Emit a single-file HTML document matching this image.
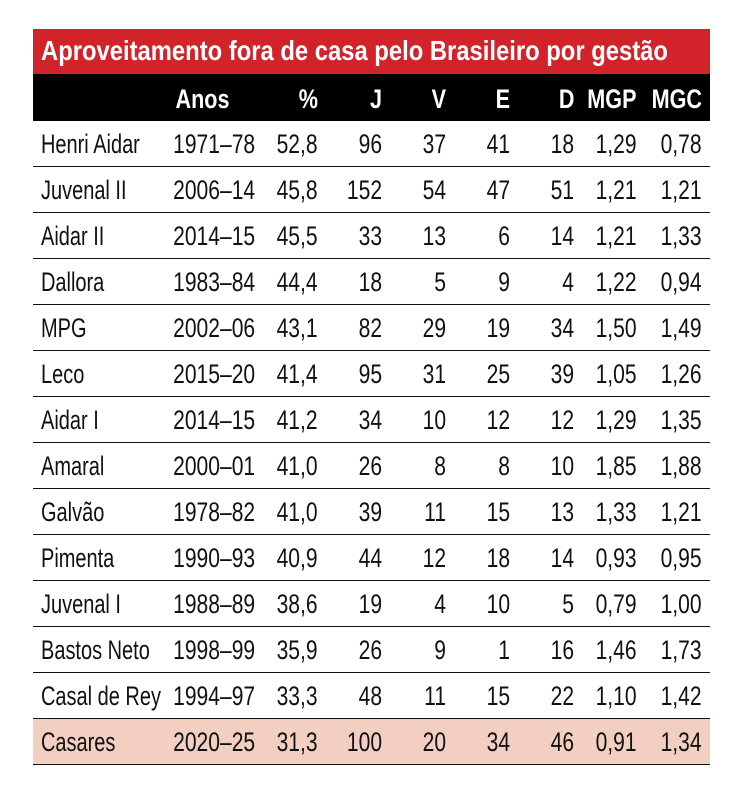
<!DOCTYPE html>
<html><head><meta charset="utf-8"><style>
body{margin:0;background:#fff;width:744px;height:792px;position:relative;overflow:hidden;font-family:"Liberation Sans Narrow","Liberation Sans",sans-serif;}
.t{position:absolute;left:33px;top:29px;width:677px;height:45px;background:#d2232a;}
.t span{position:absolute;left:8px;top:5px;color:#fff;font-weight:bold;font-size:28px;white-space:nowrap;transform:scaleX(0.85);transform-origin:left center;line-height:34px;}
.h{position:absolute;left:33px;top:74px;width:677px;height:47px;background:#000;}
.r{position:absolute;left:33px;width:677px;height:45px;border-bottom:1.5px solid #111;}
.c{position:absolute;top:0;height:45px;line-height:47px;font-size:27px;color:#111;white-space:nowrap;transform:scaleX(0.78);transform-origin:right center;text-align:right;}
.n{transform-origin:left center;text-align:left;left:8px;transform:scaleX(0.74);}
.h .c{color:#fff;font-weight:bold;line-height:50px;transform:scaleX(0.8);}
</style></head><body>
<div class="t"><span>Aproveitamento fora de casa pelo Brasileiro por gestão</span></div>
<div class="h">
<span class="c" style="right:481px">Anos</span>
<span class="c" style="right:392px">%</span>
<span class="c" style="right:328px">J</span>
<span class="c" style="right:264px">V</span>
<span class="c" style="right:200px">E</span>
<span class="c" style="right:136px">D</span>
<span class="c" style="right:73px">MGP</span>
<span class="c" style="right:8px">MGC</span>
</div>
<div class="r" style="top:121px"><span class="c n">Henri Aidar</span><span class="c" style="right:455px">1971–78</span><span class="c" style="right:392px">52,8</span><span class="c" style="right:328px">96</span><span class="c" style="right:264px">37</span><span class="c" style="right:200px">41</span><span class="c" style="right:136px">18</span><span class="c" style="right:73px">1,29</span><span class="c" style="right:8px">0,78</span></div>
<div class="r" style="top:167px"><span class="c n">Juvenal II</span><span class="c" style="right:455px">2006–14</span><span class="c" style="right:392px">45,8</span><span class="c" style="right:328px">152</span><span class="c" style="right:264px">54</span><span class="c" style="right:200px">47</span><span class="c" style="right:136px">51</span><span class="c" style="right:73px">1,21</span><span class="c" style="right:8px">1,21</span></div>
<div class="r" style="top:213px"><span class="c n">Aidar II</span><span class="c" style="right:455px">2014–15</span><span class="c" style="right:392px">45,5</span><span class="c" style="right:328px">33</span><span class="c" style="right:264px">13</span><span class="c" style="right:200px">6</span><span class="c" style="right:136px">14</span><span class="c" style="right:73px">1,21</span><span class="c" style="right:8px">1,33</span></div>
<div class="r" style="top:259px"><span class="c n">Dallora</span><span class="c" style="right:455px">1983–84</span><span class="c" style="right:392px">44,4</span><span class="c" style="right:328px">18</span><span class="c" style="right:264px">5</span><span class="c" style="right:200px">9</span><span class="c" style="right:136px">4</span><span class="c" style="right:73px">1,22</span><span class="c" style="right:8px">0,94</span></div>
<div class="r" style="top:305px"><span class="c n">MPG</span><span class="c" style="right:455px">2002–06</span><span class="c" style="right:392px">43,1</span><span class="c" style="right:328px">82</span><span class="c" style="right:264px">29</span><span class="c" style="right:200px">19</span><span class="c" style="right:136px">34</span><span class="c" style="right:73px">1,50</span><span class="c" style="right:8px">1,49</span></div>
<div class="r" style="top:351px"><span class="c n">Leco</span><span class="c" style="right:455px">2015–20</span><span class="c" style="right:392px">41,4</span><span class="c" style="right:328px">95</span><span class="c" style="right:264px">31</span><span class="c" style="right:200px">25</span><span class="c" style="right:136px">39</span><span class="c" style="right:73px">1,05</span><span class="c" style="right:8px">1,26</span></div>
<div class="r" style="top:397px"><span class="c n">Aidar I</span><span class="c" style="right:455px">2014–15</span><span class="c" style="right:392px">41,2</span><span class="c" style="right:328px">34</span><span class="c" style="right:264px">10</span><span class="c" style="right:200px">12</span><span class="c" style="right:136px">12</span><span class="c" style="right:73px">1,29</span><span class="c" style="right:8px">1,35</span></div>
<div class="r" style="top:443px"><span class="c n">Amaral</span><span class="c" style="right:455px">2000–01</span><span class="c" style="right:392px">41,0</span><span class="c" style="right:328px">26</span><span class="c" style="right:264px">8</span><span class="c" style="right:200px">8</span><span class="c" style="right:136px">10</span><span class="c" style="right:73px">1,85</span><span class="c" style="right:8px">1,88</span></div>
<div class="r" style="top:489px"><span class="c n">Galvão</span><span class="c" style="right:455px">1978–82</span><span class="c" style="right:392px">41,0</span><span class="c" style="right:328px">39</span><span class="c" style="right:264px">11</span><span class="c" style="right:200px">15</span><span class="c" style="right:136px">13</span><span class="c" style="right:73px">1,33</span><span class="c" style="right:8px">1,21</span></div>
<div class="r" style="top:535px"><span class="c n">Pimenta</span><span class="c" style="right:455px">1990–93</span><span class="c" style="right:392px">40,9</span><span class="c" style="right:328px">44</span><span class="c" style="right:264px">12</span><span class="c" style="right:200px">18</span><span class="c" style="right:136px">14</span><span class="c" style="right:73px">0,93</span><span class="c" style="right:8px">0,95</span></div>
<div class="r" style="top:581px"><span class="c n">Juvenal I</span><span class="c" style="right:455px">1988–89</span><span class="c" style="right:392px">38,6</span><span class="c" style="right:328px">19</span><span class="c" style="right:264px">4</span><span class="c" style="right:200px">10</span><span class="c" style="right:136px">5</span><span class="c" style="right:73px">0,79</span><span class="c" style="right:8px">1,00</span></div>
<div class="r" style="top:627px"><span class="c n">Bastos Neto</span><span class="c" style="right:455px">1998–99</span><span class="c" style="right:392px">35,9</span><span class="c" style="right:328px">26</span><span class="c" style="right:264px">9</span><span class="c" style="right:200px">1</span><span class="c" style="right:136px">16</span><span class="c" style="right:73px">1,46</span><span class="c" style="right:8px">1,73</span></div>
<div class="r" style="top:673px"><span class="c n">Casal de Rey</span><span class="c" style="right:455px">1994–97</span><span class="c" style="right:392px">33,3</span><span class="c" style="right:328px">48</span><span class="c" style="right:264px">11</span><span class="c" style="right:200px">15</span><span class="c" style="right:136px">22</span><span class="c" style="right:73px">1,10</span><span class="c" style="right:8px">1,42</span></div>
<div class="r" style="top:719px;background:#f3cfc2"><span class="c n">Casares</span><span class="c" style="right:455px">2020–25</span><span class="c" style="right:392px">31,3</span><span class="c" style="right:328px">100</span><span class="c" style="right:264px">20</span><span class="c" style="right:200px">34</span><span class="c" style="right:136px">46</span><span class="c" style="right:73px">0,91</span><span class="c" style="right:8px">1,34</span></div>
</body></html>
